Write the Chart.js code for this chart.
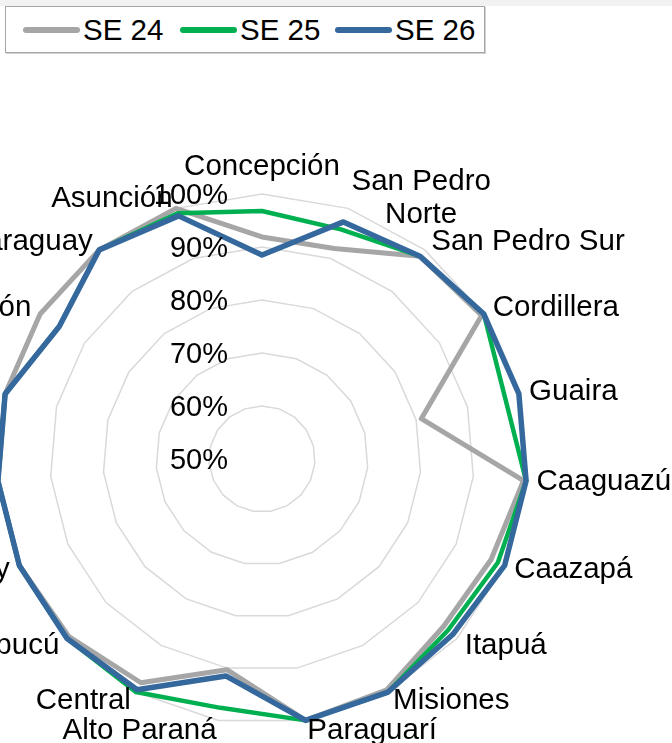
<!DOCTYPE html>
<html lang="es">
<head>
    <meta charset="UTF-8">
    <title>SE 24 - SE 26 por departamento</title>
    <style>
        body {
            margin: 0;
            padding: 0;
            width: 672px;
            height: 743px;
            overflow: hidden;
            background: #ffffff;
            font-family: 'Liberation Sans', Arial, sans-serif;
            position: relative;
        }

        .top-band {
            position: absolute;
            left: 0;
            top: 0;
            width: 672px;
            height: 6px;
            background: #f2f2f2;
        }

        .legend {
            position: absolute;
            left: 5px;
            top: 6px;
            width: 478px;
            height: 45px;
            border: 1px solid #a6a6a6;
            box-shadow: 1px 1px 0 #d0d0d0;
            background: #ffffff;
        }

        .legend-item {
            position: absolute;
            top: 0;
            height: 45px;
            display: flex;
            align-items: center;
        }

        .swatch {
            width: 57px;
            height: 6px;
            border-radius: 3px;
            margin-right: 3px;
        }

        .legend-item span {
            font-size: 29.5px;
            color: #000000;
            white-space: nowrap;
        }

        #chart {
            position: absolute;
            left: -300px;
            top: 60px;
        }
    </style>
    <script src="https://cdn.jsdelivr.net/npm/chart.js"></script>
</head>
<body>
    <div class="top-band"></div>
    <div class="legend" id="legend"></div>
    <canvas id="chart" width="972" height="683"></canvas>

    <script>
        // Categories (departments), clockwise from the top
        const categories = [
            'Concepción', ['San Pedro', 'Norte'], 'San Pedro Sur', 'Cordillera', 'Guaira',
            'Caaguazú', 'Caazapá', 'Itapuá', 'Misiones', 'Paraguarí', 'Alto Paraná',
            'Central', 'Ñeembucú', 'Amambay', 'Canindeyú', 'Presidente Hayes',
            'Boquerón', 'Alto Paraguay', 'Asunción'
        ];

        // Series values (%)
        const se24 = [91.9, 92, 98.5, 99.5, 81, 99.5, 97.2, 96.6, 99.5, 100, 90.3, 98, 99.5, 100, 100, 100, 100, 100, 100];
        const se25 = [96.8, 95.8, 98.5, 100, 97.3, 100, 98.6, 97.7, 100, 100, 97.6, 100, 100, 100, 100, 100, 95.7, 100, 99];
        const se26 = [88.5, 97.3, 98.5, 100, 100, 100, 100, 98.9, 100, 100, 91.5, 99.5, 100, 100, 100, 100, 95.7, 100, 98.5];

        // Radial axis ticks (%)
        const tickValues = [50, 60, 70, 80, 90, 100];

        const seriesNames = ['SE 24', 'SE 25', 'SE 26'];
        const seriesColors = ['#a6a6a6', '#00b050', '#35689d'];

        // Legend built as html so it can sit in its own bordered box
        const legendLeft = [17, 174, 329];
        const legend = document.getElementById('legend');
        seriesNames.forEach((name, i) => {
            const item = document.createElement('div');
            item.className = 'legend-item';
            item.style.left = legendLeft[i] + 'px';
            item.innerHTML = `<div class="swatch" style="background:${seriesColors[i]}"></div><span>${name}</span>`;
            legend.appendChild(item);
        });

        const FONT = "'Liberation Sans', Arial, sans-serif";

        // Draws category labels and tick labels the way the spreadsheet does
        const labelPlugin = {
            id: 'excelLabels',
            afterDatasetsDraw(chart) {
                const ctx = chart.ctx;
                const s = chart.scales.r;
                const n = categories.length;
                ctx.save();
                ctx.fillStyle = '#000000';
                ctx.textBaseline = 'middle';
                ctx.textAlign = 'center';

                // category labels
                ctx.font = '29.5px ' + FONT;
                const lh = 33;
                categories.forEach((label, i) => {
                    const lines = Array.isArray(label) ? label : [label];
                    const p = s.getPointPosition(i, s.drawingArea + 10.5);
                    const deg = i * 360 / n;
                    const maxW = Math.max(...lines.map(l => ctx.measureText(l).width));
                    const h = lines.length * lh;
                    let cx = p.x;
                    let cy = p.y;
                    if (deg === 0) {
                        cy = p.y - h / 2;
                    } else if (deg < 180) {
                        cx = p.x + maxW / 2;
                    } else if (deg > 180) {
                        cx = p.x - maxW / 2;
                    }
                    lines.forEach((ln, k) => {
                        ctx.fillText(ln, cx, cy - h / 2 + lh * (k + 0.5));
                    });
                });

                // tick labels, right aligned left of the vertical axis
                ctx.font = '29px ' + FONT;
                ctx.textAlign = 'right';
                tickValues.forEach(v => {
                    const y = s.yCenter - s.getDistanceFromCenterForValue(v) + 2;
                    ctx.fillText(v + '%', s.xCenter - 34, y);
                });
                ctx.restore();
            }
        };

        const datasetList = [se24, se25, se26].map((data, i) => ({
            label: seriesNames[i],
            data: data,
            borderColor: seriesColors[i],
            backgroundColor: seriesColors[i],
            borderWidth: [5, 4.5, 5.5][i],
            borderJoinStyle: 'round',
            fill: false,
            pointRadius: 0,
            pointHoverRadius: 0,
            tension: 0,
            order: 2 - i
        }));

        new Chart(document.getElementById('chart'), {
            type: 'radar',
            data: {
                labels: categories,
                datasets: datasetList
            },
            options: {
                responsive: false,
                animation: false,
                layout: {
                    padding: { left: 297, top: 134, right: 145, bottom: 19 }
                },
                plugins: {
                    legend: { display: false },
                    tooltip: { enabled: false }
                },
                scales: {
                    r: {
                        min: 50,
                        max: 100,
                        ticks: { display: false, stepSize: 10 },
                        pointLabels: { display: false },
                        angleLines: { display: false },
                        grid: { color: '#d9d9d9', lineWidth: 1.5, circular: false }
                    }
                }
            },
            plugins: [labelPlugin]
        });
    </script>
</body>
</html>
